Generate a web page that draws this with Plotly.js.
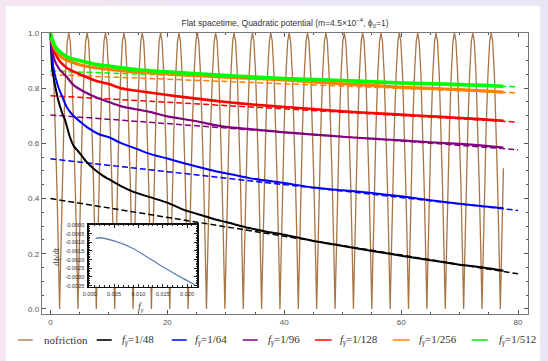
<!DOCTYPE html>
<html>
<head>
<meta charset="utf-8">
<script src="https://cdn.plot.ly/plotly-3.0.1.min.js"></script>
<style>
  html, body { margin:0; padding:0; width:548px; height:361px; overflow:hidden;
    background: linear-gradient(to right, #f5e6ef, #ece6f5 40%, #ebe6f6); }
  #panel { position:absolute; left:6px; top:6px; width:534px; height:355px; background:#fff; }
  #chart { position:absolute; left:0; top:0; width:548px; height:361px; }
</style>
</head>
<body>
<div id="panel"></div>
<div id="chart"></div>
<script>
// ---------- data ----------
// no-friction oscillation: peak times and one lobe profile (offset from peak, value)
const nofrictionPeaks = [0, 3.14, 6.28, 9.42, 12.57, 15.71, 18.85, 21.99, 25.13, 28.27, 31.42, 34.56,
  37.70, 40.84, 43.98, 47.12, 50.27, 53.41, 56.55, 59.69, 62.83, 65.97, 69.12, 72.26, 75.40];
const lobeOffset = [-1.571, -1.45, -1.3, -1.1, -0.85, -0.55, -0.25, 0, 0.25, 0.55, 0.85, 1.1, 1.3, 1.45];
const lobeValue  = [0, 0.12, 0.27, 0.45, 0.66, 0.85, 0.97, 1, 0.97, 0.85, 0.66, 0.45, 0.27, 0.12];
const nofrictionTailT = [76.97, 77.25, 77.5];
const nofrictionTailV = [0, 0.28, 0.51];

const t48 = [0, 0.3, 0.7, 1.3, 2.0, 2.5, 3.3, 4, 5, 6, 7.3, 9, 10, 12, 14, 17, 20, 22.7, 25, 28.4, 30, 34, 37, 40, 45, 50, 55, 60, 65, 70, 74, 77.5];
const v48 = [1, 0.87, 0.82, 0.76, 0.71, 0.685, 0.625, 0.59, 0.565, 0.537, 0.51, 0.482, 0.47, 0.446, 0.426, 0.405, 0.385, 0.36, 0.345, 0.323, 0.315, 0.293, 0.28, 0.269, 0.246, 0.228, 0.21, 0.193, 0.176, 0.16, 0.15, 0.138];

const t64 = [0, 0.45, 1.3, 2, 2.7, 3.5, 5, 6.5, 8.4, 10, 12, 15, 17, 20, 22.7, 25, 28.4, 30, 34, 40, 45, 50, 55, 60, 65, 70, 74, 77.5];
const v64 = [1, 0.88, 0.807, 0.77, 0.735, 0.71, 0.68, 0.655, 0.632, 0.622, 0.602, 0.578, 0.562, 0.545, 0.529, 0.516, 0.498, 0.492, 0.474, 0.456, 0.44, 0.43, 0.42, 0.408, 0.394, 0.381, 0.372, 0.365];

const t96 = [0, 0.3, 0.74, 1.5, 2.7, 4, 5.6, 8, 10, 12, 15, 17, 20, 25, 28.4, 30, 35, 40, 45, 50, 55, 60, 65, 70, 74, 77.5];
const v96 = [1, 0.94, 0.9, 0.87, 0.843, 0.81, 0.789, 0.765, 0.75, 0.735, 0.722, 0.714, 0.698, 0.68, 0.665, 0.66, 0.65, 0.64, 0.632, 0.624, 0.617, 0.611, 0.604, 0.598, 0.592, 0.585];

const t128 = [0, 0.3, 0.74, 1.5, 2.7, 4, 5.6, 8, 10, 12, 15, 20, 25, 30, 35, 40, 45, 50, 55, 60, 65, 70, 74, 77.5];
const v128 = [1, 0.96, 0.93, 0.9, 0.875, 0.86, 0.845, 0.825, 0.815, 0.8, 0.79, 0.775, 0.762, 0.75, 0.74, 0.732, 0.724, 0.716, 0.71, 0.704, 0.698, 0.692, 0.687, 0.682];

const t256 = [0, 0.3, 1, 2, 3, 5, 7.5, 10, 15, 20, 25, 30, 35, 40, 45, 50, 55, 60, 65, 70, 74, 77.5];
const v256 = [1, 0.97, 0.935, 0.91, 0.9, 0.885, 0.875, 0.868, 0.858, 0.852, 0.845, 0.84, 0.835, 0.83, 0.823, 0.816, 0.81, 0.803, 0.799, 0.795, 0.79, 0.786];

const t512 = [0, 0.3, 1, 2, 3, 5, 7.5, 10, 15, 20, 25, 30, 35, 40, 45, 50, 55, 60, 65, 70, 74, 77.5];
const v512 = [1, 0.975, 0.945, 0.925, 0.912, 0.9, 0.888, 0.88, 0.867, 0.859, 0.852, 0.846, 0.84, 0.835, 0.831, 0.828, 0.823, 0.819, 0.816, 0.813, 0.81, 0.807];

// dashed fit lines: value at t=0 and at t=80
const fitT = [0, 80];
const fit48 = [0.400, 0.127];
const fit64 = [0.544, 0.357];
const fit96 = [0.703, 0.577];
const fit128 = [0.773, 0.677];
const fit256 = [0.849, 0.783];
const fit512 = [0.862, 0.805];

// inset: d(phi)/dt slope vs f_gamma
const insetF = [0.0012, 0.002, 0.0055, 0.0089, 0.0123, 0.0157, 0.0185, 0.0216];
const insetD = [-0.00078, -0.00074, -0.00097, -0.00136, -0.00194, -0.00253, -0.00298, -0.00345];
const insetYTicks = [0, -0.0005, -0.001, -0.0015, -0.002, -0.0025, -0.003, -0.0035];
const insetYLabels = ['0.0000', '-0.0005', '-0.0010', '-0.0015', '-0.0020', '-0.0025', '-0.0030', '-0.0035'];

const seriesNames = ['nofriction', '1/48', '1/64', '1/96', '1/128', '1/256', '1/512'];
const seriesColors = ['#a87545', '#000000', '#0000ff', '#800080', '#ff0000', '#ff8000', '#00ff00'];
const legendColors = ['#c9a47c', '#333333', '#3344ff', '#a040a0', '#ff4444', '#ffa040', '#44ee44'];

// ---------- build no-friction curve from peaks + lobe profile ----------
const nfT = [], nfV = [];
nofrictionPeaks.forEach(p => {
  lobeOffset.forEach((o, i) => {
    const t = p + o;
    if (t >= 0) { nfT.push(t); nfV.push(lobeValue[i]); }
  });
});
nofrictionTailT.forEach((t, i) => { nfT.push(t); nfV.push(nofrictionTailV[i]); });

const solids = [[t48, v48], [t64, v64], [t96, v96], [t128, v128], [t256, v256], [t512, v512]];
const fits = [fit48, fit64, fit96, fit128, fit256, fit512];
const widths = [2, 2, 2.2, 2.6, 3.2, 3.6];

const traces = [];
traces.push({x: nfT, y: nfV, mode: 'lines', line: {color: seriesColors[0], width: 1.3}, hoverinfo: 'skip'});
fits.forEach((f, i) => {
  traces.push({x: fitT, y: f, mode: 'lines', line: {color: seriesColors[i + 1], width: 1.5, dash: '6px,3px'}, hoverinfo: 'skip'});
});
solids.forEach((s, i) => {
  traces.push({x: s[0], y: s[1], mode: 'lines', line: {color: seriesColors[i + 1], width: widths[i], shape: 'spline', smoothing: 0.6}, hoverinfo: 'skip'});
});
traces.push({x: insetF, y: insetD, xaxis: 'x2', yaxis: 'y2', mode: 'lines',
  line: {color: '#5e81b5', width: 1.3, shape: 'spline', smoothing: 0.8}, hoverinfo: 'skip'});

// ---------- layout helpers (pixel -> paper) ----------
const L = 42.3, R = 528.3, T = 33.3, B = 314;
const px = x => (x - L) / (R - L);
const py = y => (B - y) / (B - T);

const shapes = [];
const annotations = [];
const legendLine = [[18, 33], [97, 112], [172, 187], [243, 258], [315, 332], [393, 410], [472, 488]];
const legendText = [42, 120, 193, 266, 338, 417, 497];
const legY = 340;
seriesNames.forEach((n, i) => {
  shapes.push({type: 'line', xref: 'paper', yref: 'paper', x0: px(legendLine[i][0]), x1: px(legendLine[i][1]),
    y0: py(legY), y1: py(legY), line: {color: legendColors[i], width: 2}});
  const label = i === 0 ? 'nofriction' : '<i>f</i><sub><i>γ</i></sub>=' + n;
  annotations.push({xref: 'paper', yref: 'paper', x: px(legendText[i]), y: py(legY), xanchor: 'left', yanchor: 'middle',
    text: label, showarrow: false, font: {family: 'Liberation Serif, Times New Roman, serif', size: 11, color: '#333'}});
});
annotations.push({xref: 'paper', yref: 'paper', x: px(56), y: py(257), text: 'dϕ/dt', textangle: -90, showarrow: false,
  xanchor: 'center', yanchor: 'middle', font: {family: 'Liberation Serif, serif', size: 8.5, color: '#444'}});
annotations.push({xref: 'paper', yref: 'paper', x: px(141.7), y: py(308), text: '<i>f</i><sub><i>γ</i></sub>', showarrow: false,
  xanchor: 'center', yanchor: 'middle', font: {family: 'Liberation Serif, serif', size: 10, color: '#444'}});

const tickFont = {family: 'Liberation Sans, Arial, sans-serif', size: 8, color: '#555'};
const insetFont = {family: 'Liberation Sans, Arial, sans-serif', size: 5.6, color: '#333'};

const layout = {
  width: 548, height: 361,
  margin: {l: L, r: 548 - R, t: T, b: 361 - B, pad: 0},
  paper_bgcolor: 'rgba(0,0,0,0)', plot_bgcolor: '#ffffff',
  showlegend: false,
  title: {text: 'Flat spacetime, Quadratic potential (m=4.5×10<sup>−4</sup>, ϕ<sub>0</sub>=1)',
    x: px(285.3), xref: 'paper', y: 1 - 23 / 361, yref: 'container', xanchor: 'center', yanchor: 'middle',
    font: {family: 'Liberation Sans, Arial, sans-serif', size: 8.5, color: '#333'}},
  xaxis: {range: [-1.44, 81.7], tick0: 0, dtick: 20, ticks: 'inside', ticklen: 4, tickcolor: '#555', tickwidth: 1,
    showline: true, linecolor: '#777', linewidth: 1.3, mirror: 'allticks', showgrid: false, zeroline: false,
    tickfont: tickFont, minor: {tick0: 0, dtick: 5, ticks: 'inside', ticklen: 2, tickcolor: '#555', showgrid: false}},
  yaxis: {range: [-0.0185, 1.0], tick0: 0, dtick: 0.2, tickformat: '.1f', ticks: 'inside', ticklen: 4, tickcolor: '#555', tickwidth: 1,
    showline: true, linecolor: '#777', linewidth: 1.3, mirror: 'allticks', showgrid: false, zeroline: false,
    tickfont: tickFont, minor: {tick0: 0, dtick: 0.05, ticks: 'inside', ticklen: 2, tickcolor: '#555', showgrid: false}},
  xaxis2: {domain: [px(89.2), px(197.6)], anchor: 'y2', range: [-0.00016, 0.0221], tick0: 0, dtick: 0.005, tickformat: '.3f',
    ticks: 'inside', ticklen: 3, tickcolor: '#222', showline: true, linecolor: '#111', linewidth: 1.5, mirror: 'allticks',
    showgrid: false, zeroline: false, tickfont: insetFont, ticklabelstandoff: 1,
    minor: {tick0: 0, dtick: 0.001, ticks: 'inside', ticklen: 1.5, tickcolor: '#222', showgrid: false}},
  yaxis2: {domain: [py(286.7), py(225)], anchor: 'x2', range: [-0.00356, 0], tickvals: insetYTicks, ticktext: insetYLabels,
    ticks: 'inside', ticklen: 3, tickcolor: '#222', showline: true, linecolor: '#111', linewidth: 1.5, mirror: 'allticks',
    showgrid: false, zeroline: false, tickfont: insetFont, ticklabelstandoff: 2,
    minor: {tick0: 0, dtick: 0.0001, ticks: 'inside', ticklen: 1.5, tickcolor: '#222', showgrid: false}},
  shapes: shapes,
  annotations: annotations
};

Plotly.newPlot('chart', traces, layout, {staticPlot: true, displayModeBar: false});
</script>
</body>
</html>
